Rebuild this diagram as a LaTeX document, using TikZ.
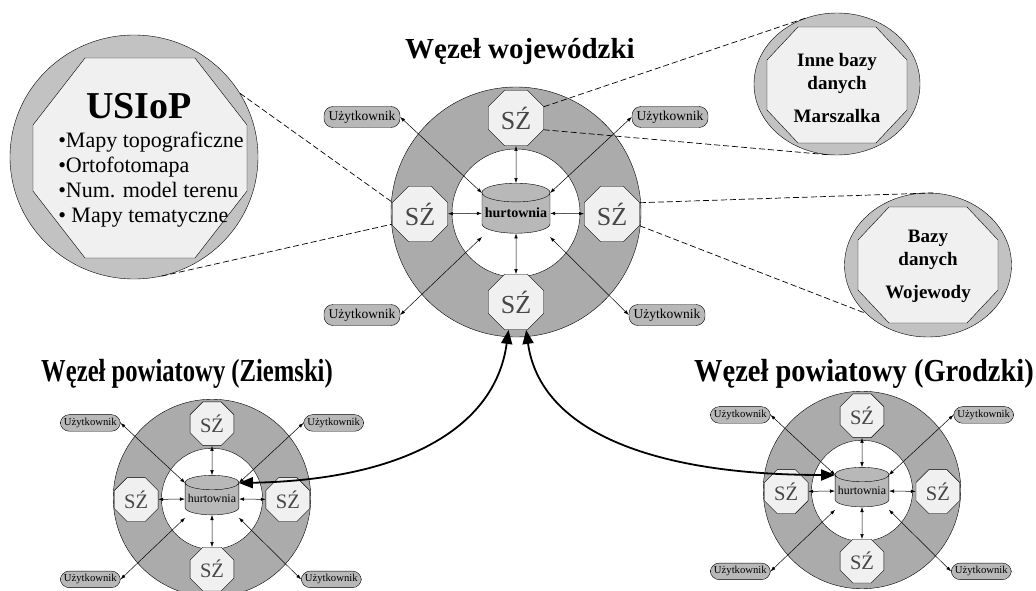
\documentclass[tikz,border=0pt]{standalone}
\usepackage{fontspec}
\setmainfont{Liberation Serif}
\usetikzlibrary{shapes.geometric,arrows.meta}

\definecolor{szary}{gray}{0.67}
\definecolor{jasny}{gray}{0.94}
\definecolor{sredni}{gray}{0.72}
\definecolor{tlo}{gray}{0.76}

\tikzset{
  pierscien/.style={circle, draw, fill=szary, inner sep=0},
  srodek/.style={circle, draw, fill=white, inner sep=0},
  sz/.style={regular polygon, regular polygon sides=8, draw, fill=jasny, inner sep=0,
    minimum size=60, text=gray!55!black, font=\fontsize{26}{26}\selectfont},
  baza/.style={cylinder, shape border rotate=90, aspect=0.3, draw, fill=sredni,
    minimum width=68, minimum height=50, inner sep=0},
  uzytk/.style={draw, fill=sredni, rounded corners=9pt, minimum width=76,
    minimum height=21, inner sep=1pt, font=\fontsize{13.5}{14}\selectfont},
  maly/.style={{Latex[length=5pt,width=3.5pt]}-{Latex[length=5pt,width=3.5pt]}, line width=0.5pt},
  gruba/.style={{Triangle[length=14pt,width=11pt]}-{Triangle[length=14pt,width=11pt]}, line width=1.8pt},
  kreski/.style={dash pattern=on 6pt off 3pt, line width=0.7pt},
  owal/.style={ellipse, draw, fill=tlo, inner sep=0},
  okno/.style={draw, fill=jasny},
  tytul/.style={font=\fontsize{29}{30}\selectfont\bfseries},
  opis/.style={align=center, font=\fontsize{19}{23}\selectfont\bfseries},
}

% jeden wezel: #1 nazwa, #2 srodek, #3 skala, #4 czcionka hurtowni
\newcommand{\wezel}[4]{%
\begin{scope}[shift={#2}, scale=#3, transform shape]
  \node[pierscien, minimum size=250] (#1-ring) at (0,0) {};
  \node[srodek, minimum size=128] (#1-hole) at (0,1) {};
  \node[baza, font=#4] (#1-hw) at (0,1) {hurtownia};
  \node[sz] (#1-n) at (0,-94) {SŹ};
  \node[sz] (#1-w) at (-96,2) {SŹ};
  \node[sz] (#1-e) at (96,2) {SŹ};
  \node[sz] (#1-s) at (0,90) {SŹ};
  \node[uzytk] (#1-u1) at (-154,-95) {Użytkownik};
  \node[uzytk] (#1-u2) at (154,-95) {Użytkownik};
  \node[uzytk] (#1-u3) at (-154,103) {Użytkownik};
  \node[uzytk] (#1-u4) at (151,103) {Użytkownik};
  \coordinate (#1-nw) at (-34,-19);
  \coordinate (#1-ne) at (34,-19);
  \coordinate (#1-sw) at (-34,25);
  \coordinate (#1-se) at (34,25);
  \draw[maly] (#1-n) -- (#1-hw);
  \draw[maly] (#1-w) -- (#1-hw);
  \draw[maly] (#1-e) -- (#1-hw);
  \draw[maly] (#1-s) -- (#1-hw);
  \draw[maly] (#1-u1.east) -- (#1-nw);
  \draw[maly] (#1-u2.west) -- (#1-ne);
  \draw[maly] (#1-u3.east) -- (#1-sw);
  \draw[maly] (#1-u4.west) -- (#1-se);
\end{scope}}

% osmiokat: #1 srodek, #2 pol szer., #3 pol wys., #4 sciecie x, #5 sciecie y
\newcommand{\osmiokat}[5]{%
  \draw[okno, shift={#1}] (-#2+#4,-#3) -- (#2-#4,-#3) -- (#2,-#3+#5) -- (#2,#3-#5)
    -- (#2-#4,#3) -- (-#2+#4,#3) -- (-#2,#3-#5) -- (-#2,-#3+#5) -- cycle;}

\begin{document}
\begin{tikzpicture}[x=1pt, y=-1pt]
\useasboundingbox[fill=white] (0,0) rectangle (1036,591);

% wezly
\wezel{t}{(516,212)}{1}{\bfseries\fontsize{14}{14}\selectfont}
\wezel{l}{(212,498)}{0.79}{\fontsize{15}{15}\selectfont}
\wezel{r}{(862,490)}{0.79}{\fontsize{15}{15}\selectfont}

\node[tytul] (t-tytul) at (520,52) {Węzeł wojewódzki};
\node[tytul, font=\fontsize{32}{32}\selectfont\bfseries] (l-tytul) at (187,374)
  {\scalebox{0.77}[1]{Węzeł powiatowy (Ziemski)}};
\node[tytul, font=\fontsize{32}{32}\selectfont\bfseries] (r-tytul) at (864,374)
  {\scalebox{0.89}[1]{Węzeł powiatowy (Grodzki)}};

% bazy danych
\node[owal, minimum width=248, minimum height=244] (usiop-bg) at (134,157) {};
\osmiokat{(140,158)}{107}{100}{52}{67}
\node[align=left, font=\fontsize{22}{25}\selectfont] (usiop) at (151,160)
  {\hspace*{28pt}{\fontsize{38}{40}\selectfont\bfseries USIoP}\\[4pt]
   •Mapy topograficzne\\ •Ortofotomapa\\ •Num. model terenu\\ • Mapy tematyczne};

\node[owal, minimum width=166, minimum height=142] (marsz-bg) at (837,84) {};
\osmiokat{(837,85)}{70}{58}{31}{33}
\node[opis] (marsz) at (837,88) {Inne bazy\\ danych\\[10pt] Marszalka};

\node[owal, minimum width=167, minimum height=144] (woj-bg) at (928,265) {};
\osmiokat{(928,265)}{70}{58}{31}{33}
\node[opis] (woj) at (928,266) {Bazy\\ danych\\[10pt] Wojewody};

\draw[kreski] (usiop-bg.31) -- (t-w.157.5);
\draw[kreski] (usiop-bg.283) -- (t-w.200);
\draw[kreski] (t-n.22.5) -- (marsz-bg.116);
\draw[kreski] (t-n.337.5) -- (marsz-bg.265);
\draw[kreski] (t-e.22.5) -- (woj-bg.86);
\draw[kreski] (t-e.337.5) -- (woj-bg.218);

% polaczenia z powiatami
\draw[gruba] (t-s.255) .. controls (495,430) and (400,480) .. (l-ne);
\draw[gruba] (t-s.290) .. controls (540,430) and (650,475) .. (r-nw);
\end{tikzpicture}
\end{document}
